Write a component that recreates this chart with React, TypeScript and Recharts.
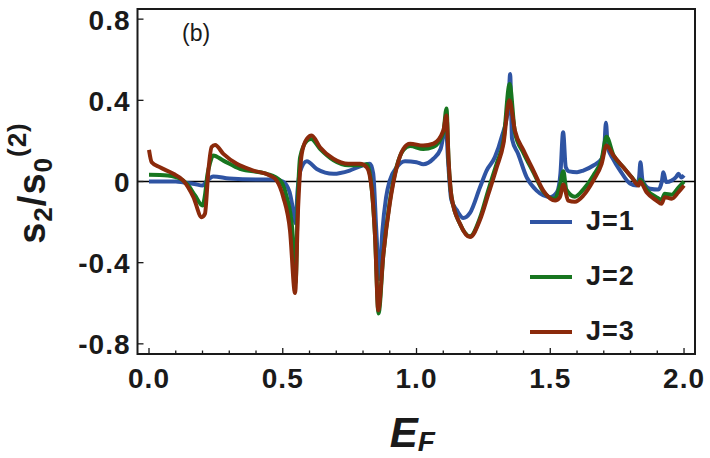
import {
  Legend,
  Line,
  LineChart,
  ReferenceArea,
  ReferenceLine,
  XAxis,
  YAxis,
} from "recharts";

// E_F sample points and s2/s0^(2) values, one pair per J
const j1E = [
  0, 0.05, 0.1, 0.13, 0.17, 0.2, 0.215, 0.24, 0.3, 0.4, 0.47, 0.5, 0.525, 0.54, 0.548, 0.555,
  0.565, 0.59, 0.627, 0.69, 0.75, 0.8, 0.826, 0.838, 0.85, 0.861, 0.872, 0.886, 0.9, 0.926,
  0.957, 1.0, 1.025, 1.063, 1.09, 1.11, 1.118, 1.13, 1.15, 1.175, 1.2, 1.237, 1.262, 1.293,
  1.318, 1.343, 1.35, 1.357, 1.38, 1.412, 1.449, 1.5, 1.525, 1.538, 1.548, 1.558, 1.57, 1.6,
  1.623, 1.661, 1.692, 1.702, 1.708, 1.715, 1.735, 1.761, 1.798, 1.823, 1.832, 1.837, 1.845,
  1.873, 1.904, 1.917, 1.923, 1.933, 1.954, 1.972, 1.979, 1.99, 2.0,
];
const j1V = [
  0, 0, 0, -0.005, -0.012, -0.02, 0.0, 0.025, 0.015, 0.01, 0.01, 0.0, -0.05, -0.15, -0.205,
  -0.05, 0.05, 0.1, 0.062, 0.038, 0.054, 0.08, 0.087, 0.04, -0.25, -0.48, -0.25, -0.08, 0.005,
  0.07, 0.1, 0.095, 0.085, 0.112, 0.16, 0.27, 0.1, -0.09, -0.14, -0.18, -0.155, -0.03, 0.054,
  0.12, 0.218, 0.366, 0.53, 0.21, 0.136, 0.02, -0.045, -0.077, -0.053, 0.04, 0.243, 0.07, 0.05,
  0.046, 0.054, 0.079, 0.112, 0.17, 0.29, 0.17, 0.11, 0.054, -0.01, -0.02, 0.02, 0.095, 0.005,
  -0.036, -0.04, 0.0, 0.046, -0.003, 0.005, 0.025, 0.038, 0.02, 0.03,
];

const j2E = [
  0, 0.07, 0.1, 0.128, 0.15, 0.172, 0.2, 0.21, 0.218, 0.228, 0.24, 0.278, 0.34, 0.44, 0.49,
  0.515, 0.536, 0.548, 0.556, 0.565, 0.59, 0.606, 0.64, 0.69, 0.745, 0.79, 0.814, 0.832, 0.845,
  0.858, 0.876, 0.9, 0.926, 0.951, 0.976, 1.025, 1.063, 1.1, 1.112, 1.12, 1.131, 1.163, 1.2,
  1.237, 1.269, 1.3, 1.325, 1.348, 1.368, 1.4, 1.437, 1.474, 1.515, 1.536, 1.549, 1.56, 1.592,
  1.623, 1.661, 1.692, 1.71, 1.736, 1.773, 1.805, 1.83, 1.836, 1.86, 1.9, 1.916, 1.928, 1.954,
  1.979, 2.0,
];
const j2V = [
  0.033, 0.03, 0.022, 0.005, -0.025, -0.069, -0.118, -0.06, 0.03, 0.09, 0.128, 0.103, 0.062,
  0.038, 0.005, -0.077, -0.24, -0.5, -0.1, 0.12, 0.2, 0.21, 0.16, 0.105, 0.08, 0.08, 0.085,
  -0.03, -0.27, -0.65, -0.36, -0.1, 0.075, 0.155, 0.175, 0.16, 0.17, 0.24, 0.36, 0.1, -0.077,
  -0.21, -0.27, -0.18, -0.04, 0.09, 0.2, 0.48, 0.24, 0.14, 0.045, -0.05, -0.085, -0.02, 0.05,
  -0.04, -0.075, -0.04, 0.03, 0.11, 0.22, 0.13, 0.07, 0.02, -0.015, 0.01, -0.04, -0.08, -0.09,
  -0.06, -0.065, -0.03, 0.0,
];

const j3E = [
  0, 0.01, 0.041, 0.091, 0.128, 0.166, 0.197, 0.209, 0.222, 0.234, 0.247, 0.278, 0.328, 0.39,
  0.452, 0.477, 0.502, 0.527, 0.546, 0.558, 0.571, 0.59, 0.608, 0.639, 0.689, 0.745, 0.789,
  0.814, 0.832, 0.845, 0.857, 0.876, 0.9, 0.926, 0.951, 0.976, 1.025, 1.063, 1.1, 1.112, 1.12,
  1.131, 1.163, 1.2, 1.237, 1.269, 1.3, 1.325, 1.347, 1.368, 1.4, 1.437, 1.474, 1.518, 1.536,
  1.549, 1.567, 1.592, 1.623, 1.661, 1.692, 1.71, 1.736, 1.773, 1.805, 1.83, 1.835, 1.86, 1.897,
  1.916, 1.928, 1.954, 1.979, 2.0,
];
const j3V = [
  0.156, 0.095, 0.07, 0.038, 0.005, -0.077, -0.176, -0.16, 0.054, 0.17, 0.18, 0.136, 0.087,
  0.054, 0.03, 0.005, -0.077, -0.24, -0.55, -0.11, 0.136, 0.21, 0.227, 0.169, 0.112, 0.087,
  0.087, 0.07, -0.03, -0.27, -0.635, -0.36, -0.11, 0.07, 0.161, 0.186, 0.177, 0.186, 0.25,
  0.325, 0.1, -0.077, -0.21, -0.274, -0.19, -0.06, 0.07, 0.186, 0.4, 0.25, 0.153, 0.054, -0.045,
  -0.094, -0.077, -0.015, -0.094, -0.1, -0.07, 0.005, 0.087, 0.177, 0.128, 0.07, 0.02, -0.02,
  0.0, -0.053, -0.094, -0.11, -0.077, -0.085, -0.053, -0.02,
];

const xTicks = [
  0, 0.1, 0.2, 0.3, 0.4, 0.5, 0.6, 0.7, 0.8, 0.9, 1.0, 1.1, 1.2, 1.3, 1.4, 1.5, 1.6, 1.7, 1.8,
  1.9, 2.0,
];
const yTicks = [-0.8, -0.4, 0, 0.4, 0.8];
const seriesNames = ["J=1", "J=2", "J=3"];
const seriesColors = ["#2f54a3", "#17761f", "#8b2a0b"];

const X_DOMAIN: [number, number] = [-0.043, 2.041];
const Y_DOMAIN: [number, number] = [-0.85, 0.85];
const FONT = '"Liberation Sans", Arial, sans-serif';
const INK = "#1a1a1a";

const toPoints = (es: number[], vs: number[]) => es.map((e, i) => ({ e, v: vs[i] }));
const series = [toPoints(j1E, j1V), toPoints(j2E, j2V), toPoints(j3E, j3V)];

function XTick({ x, y, payload }: any) {
  const v = payload.value as number;
  const major = Math.abs(v * 2 - Math.round(v * 2)) < 1e-6;
  return (
    <g>
      <line x1={x} x2={x} y1={y} y2={y - (major ? 6 : 3.5)} stroke={INK} strokeWidth={1.3} />
      {major && (
        <text
          x={x}
          y={y + 34}
          textAnchor="middle"
          fontFamily={FONT}
          fontWeight="bold"
          fontSize={28}
          letterSpacing={1}
          fill={INK}
        >
          {v.toFixed(1)}
        </text>
      )}
    </g>
  );
}

function YTick({ x, y, payload }: any) {
  const v = payload.value as number;
  return (
    <g>
      <line x1={x} x2={x + 6} y1={y} y2={y} stroke={INK} strokeWidth={1.3} />
      <text
        x={x - 7}
        y={y + 10.5}
        textAnchor="end"
        fontFamily={FONT}
        fontWeight="bold"
        fontSize={28}
        letterSpacing={1}
        fill={INK}
      >
        {v === 0 ? "0" : v.toFixed(1)}
      </text>
    </g>
  );
}

function XLabel({ viewBox }: any) {
  const cx = viewBox.x + viewBox.width / 2;
  return (
    <text
      x={cx - 4}
      y={viewBox.y + 93}
      textAnchor="middle"
      fontFamily={FONT}
      fontWeight="bold"
      fontStyle="italic"
      fontSize={42}
      fill={INK}
    >
      E<tspan fontSize={28} dy={4}>F</tspan>
    </text>
  );
}

function YLabel() {
  const x = 45;
  const y = 183;
  return (
    <text
      x={x}
      y={y}
      transform={`rotate(-90, ${x}, ${y})`}
      textAnchor="middle"
      fontFamily={FONT}
      fontWeight="bold"
      fontSize={38}
      letterSpacing={1}
      fill={INK}
    >
      s<tspan fontSize={26} dy={7}>2</tspan>
      <tspan dy={-7}>/s</tspan>
      <tspan fontSize={26} dy={7}>0</tspan>
      <tspan fontSize={26} dy={-26}>(2)</tspan>
    </text>
  );
}

function LegendBox() {
  return (
    <div style={{ fontFamily: FONT }}>
      {seriesNames.map((name, i) => (
        <div key={name} style={{ display: "flex", alignItems: "center", height: 55 }}>
          <svg width={42} height={6}>
            <line x1={0} x2={42} y1={3} y2={3} stroke={seriesColors[i]} strokeWidth={4} />
          </svg>
          <span
            style={{
              marginLeft: 14,
              fontSize: 27,
              fontWeight: "bold",
              color: INK,
              letterSpacing: 1,
              lineHeight: "27px",
            }}
          >
            {name}
          </span>
        </div>
      ))}
    </div>
  );
}

export default function App() {
  return (
    <div style={{ position: "absolute", left: 0, top: 0, width: 710, height: 458, background: "#fff" }}>
      <LineChart width={710} height={458} margin={{ top: 9, right: 15, bottom: 0, left: 0 }}>
        <XAxis
          type="number"
          dataKey="e"
          domain={X_DOMAIN}
          ticks={xTicks}
          interval={0}
          allowDataOverflow
          axisLine={false}
          tickLine={false}
          tickSize={0}
          tickMargin={0}
          height={104}
          tick={<XTick />}
          label={<XLabel />}
        />
        <YAxis
          type="number"
          dataKey="v"
          domain={Y_DOMAIN}
          ticks={yTicks}
          interval={0}
          allowDataOverflow
          axisLine={false}
          tickLine={false}
          tickSize={0}
          tickMargin={0}
          width={137.5}
          tick={<YTick />}
          label={<YLabel />}
        />
        <ReferenceLine y={0} stroke="#000" strokeWidth={1.5} />
        {series.map((pts, i) => (
          <Line
            key={seriesNames[i]}
            data={pts}
            dataKey="v"
            name={seriesNames[i]}
            type="monotone"
            stroke={seriesColors[i]}
            strokeWidth={4}
            dot={false}
            activeDot={false}
            isAnimationActive={false}
          />
        ))}
        <ReferenceArea
          x1={X_DOMAIN[0]}
          x2={X_DOMAIN[1]}
          y1={Y_DOMAIN[0]}
          y2={Y_DOMAIN[1]}
          fill="none"
          fillOpacity={0}
          stroke={INK}
          strokeWidth={2}
          ifOverflow="visible"
        />
        <Legend
          layout="vertical"
          align="center"
          verticalAlign="middle"
          content={<LegendBox />}
          wrapperStyle={{ left: 530, top: 194, width: "auto" }}
        />
      </LineChart>
      <div
        style={{
          position: "absolute",
          left: 182,
          top: 22,
          fontFamily: FONT,
          fontSize: 23,
          lineHeight: "23px",
          color: INK,
        }}
      >
        (b)
      </div>
    </div>
  );
}
